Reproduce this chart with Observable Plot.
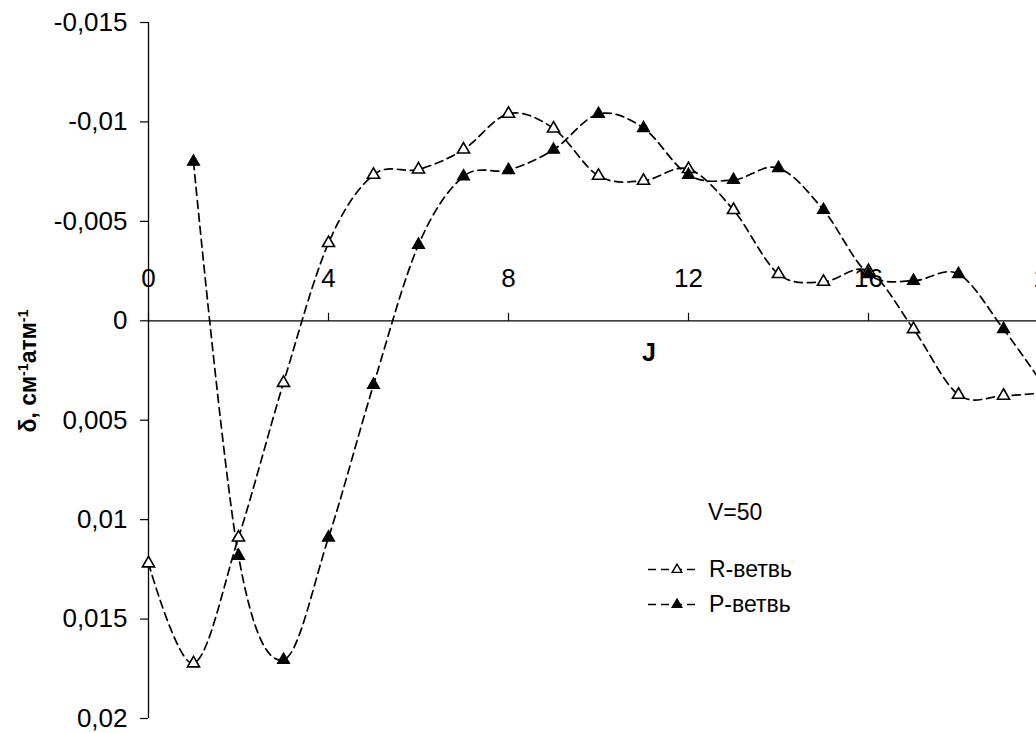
<!DOCTYPE html>
<html>
<head>
<meta charset="utf-8">
<script src="https://cdn.jsdelivr.net/npm/d3@7"></script>
<script src="https://cdn.jsdelivr.net/npm/@observablehq/plot@0.6"></script>
<style>
  html, body { margin: 0; padding: 0; background: white; overflow: hidden; }
  #wrap { position: relative; width: 1036px; height: 733px; overflow: hidden; font-family: "Liberation Sans", Arial, sans-serif; color: black; }
  #wrap > svg { max-width: none !important; width: 1060px !important; height: 733px !important; display: block; }
  .lbl { position: absolute; white-space: nowrap; line-height: 1; }
  sup { font-size: 0.62em; vertical-align: 0.55em; line-height: 0; }
</style>
</head>
<body>
<div id="wrap"></div>
<script>
// ---- data ----
const jR = [0,1,2,3,4,5,6,7,8,9,10,11,12,13,14,15,16,17,18,19,20];
const rBranch = [0.0122, 0.01723, 0.0109, 0.00312, -0.00391, -0.00734, -0.00761, -0.00861, -0.01041, -0.00967,
                 -0.00729, -0.00704, -0.00763, -0.00557, -0.00235, -0.00196, -0.0025, 0.00042, 0.00372, 0.00377, 0.0036];
const jP = [1,2,3,4,5,6,7,8,9,10,11,12,13,14,15,16,17,18,19,20];
const pBranch = [-0.0080, 0.01182, 0.01705, 0.0109, 0.00322, -0.00382, -0.00726, -0.00758, -0.0086, -0.0104,
                 -0.00969, -0.00733, -0.00708, -0.00768, -0.00557, -0.00235, -0.00201, -0.00235, 0.00042, 0.0036];
const xTicks = [0, 4, 8, 12, 16, 20];
const yTicks = [-0.015, -0.01, -0.005, 0, 0.005, 0.01, 0.015, 0.02];
const seriesNames = ["R-ветвь", "P-ветвь"];
const annotation = "V=50";
const xTitle = "J";

const R = jR.map((j, i) => ({J: j, v: rBranch[i]}));
const P = jP.map((j, i) => ({J: j, v: pBranch[i]}));
const fmt = d => String(d).replace(".", ",");
const tickUp = {draw(ctx) { ctx.moveTo(0, 0); ctx.lineTo(0, -8); }};

const lineOpts = {x: "J", y: "v", curve: "cardinal", tension: 0, stroke: "black", strokeWidth: 1.7, strokeDasharray: "8,5"};

const chart = Plot.plot({
  width: 1060,
  height: 733,
  marginLeft: 148,
  marginRight: 12,
  marginTop: 22,
  marginBottom: 15,
  style: {fontFamily: "Liberation Sans, Arial, sans-serif", fontSize: "26px", color: "black", background: "white", overflow: "visible", maxWidth: "none"},
  x: {domain: [0, 20], axis: null},
  y: {domain: [-0.015, 0.02], reverse: true, axis: null},
  marks: [
    Plot.ruleX([0], {stroke: "black", strokeWidth: 1.3}),
    Plot.ruleY([0], {stroke: "black", strokeWidth: 1.3}),
    Plot.axisY({ticks: yTicks, tickSize: 8, tickPadding: 13, tickFormat: fmt, fontSize: 26, label: null, stroke: "black", strokeWidth: 1.2}),
    Plot.dot(xTicks, {x: d => d, y: () => 0, symbol: tickUp, stroke: "black", strokeWidth: 1.2, fill: "none"}),
    Plot.text(xTicks, {x: d => d, y: () => 0, dy: -42, text: d => String(d), fontSize: 26, fill: "black"}),
    Plot.line(R, lineOpts),
    Plot.line(P, lineOpts),
    Plot.dot(R, {x: "J", y: "v", symbol: "triangle", r: 4.5, fill: "white", stroke: "black", strokeWidth: 1.6}),
    Plot.dot(P, {x: "J", y: "v", symbol: "triangle", r: 4.5, fill: "black", stroke: "black", strokeWidth: 1.2})
  ]
});

const wrap = document.getElementById("wrap");
wrap.appendChild(chart);

function addLabel(html, css) {
  const d = document.createElement("div");
  d.className = "lbl";
  d.innerHTML = html;
  Object.assign(d.style, css);
  wrap.appendChild(d);
  return d;
}
// y axis title
addLabel("δ, см<sup>-1</sup>атм<sup>-1</sup>", {left: "28px", top: "371px", fontSize: "23px", fontWeight: "bold",
  transform: "translate(-50%,-50%) rotate(-90deg)"});
// x axis title
addLabel(xTitle, {left: "649px", top: "352px", fontSize: "25px", fontWeight: "bold", transform: "translate(-50%,-50%)"});
// annotation
addLabel(annotation, {left: "708px", top: "512px", fontSize: "23px", transform: "translate(0,-50%)"});
// legend
const sym = d3.symbol(d3.symbolTriangle, 40)();
function legendRow(name, filled, y) {
  addLabel(
    `<svg width="54" height="16" style="vertical-align:middle;overflow:visible">
       <line x1="0" y1="8" x2="52" y2="8" stroke="black" stroke-width="1.5" stroke-dasharray="8,5"/>
       <path d="${sym}" transform="translate(29,8)" fill="${filled ? "black" : "white"}" stroke="black" stroke-width="1.4"/>
     </svg>`,
    {left: "648px", top: y + "px", transform: "translate(0,-50%)"});
  addLabel(name, {left: "709px", top: y + "px", fontSize: "23px", transform: "translate(0,-50%)"});
}
legendRow(seriesNames[0], false, 569);
legendRow(seriesNames[1], true, 604);
</script>
</body>
</html>
